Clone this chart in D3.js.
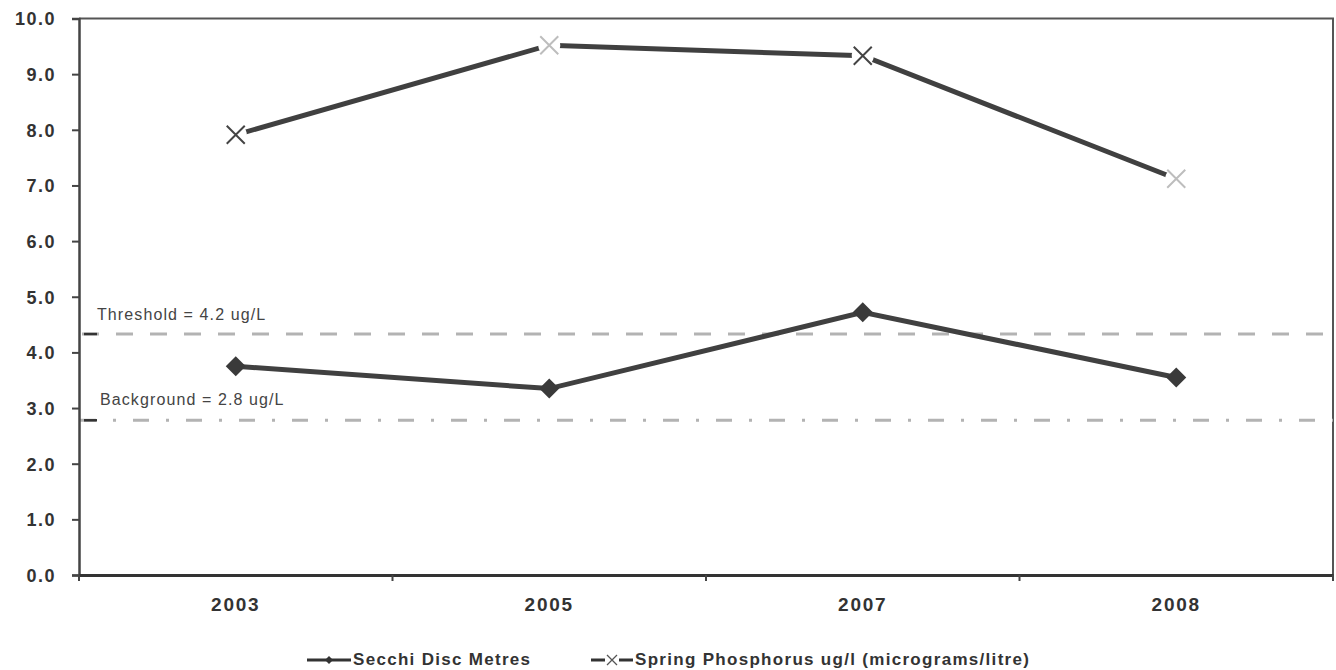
<!DOCTYPE html>
<html>
<head>
<meta charset="utf-8">
<script src="https://cdn.jsdelivr.net/npm/d3@7"></script>
<style>
	body { margin: 0; background: #fff; }
	svg text { font-family: "Liberation Sans", Arial, sans-serif; fill: #333; }
	.tick text { font-weight: bold; font-size: 18px; letter-spacing: 1.5px; }
	.xaxis .tick text { font-size: 19px; letter-spacing: 1.8px; }
	.ref-label { font-size: 16px; letter-spacing: 1.1px; fill: #444; }
	.legend text { font-weight: bold; font-size: 17px; letter-spacing: 1.3px; }
</style>
</head>
<body>
<svg class="chart" width="1336" height="670"></svg>
<script>
// Data
const years = ["2003", "2005", "2007", "2008"]
const secchi = [3.75, 3.35, 4.72, 3.55] // Secchi Disc Metres
const phosphorus = [7.91, 9.52, 9.33, 7.12] // Spring Phosphorus ug/l
const yTicks = [0, 1, 2, 3, 4, 5, 6, 7, 8, 9, 10]
const thresholdValue = 4.33
const backgroundValue = 2.78
const seriesNames = ["Secchi Disc Metres", "Spring Phosphorus  ug/l (micrograms/litre)"]

// scanned X markers come out dark / faded
const xShade = ["#444", "#bdbdbd", "#444", "#bdbdbd"]

const svg = d3.select("svg.chart")

const plotLeft = 79, plotRight = 1333, plotTop = 18.5, plotBottom = 575

const x = d3.scaleBand()
	.domain(years)
	.range([plotLeft, plotRight])
	.paddingInner(0)
	.paddingOuter(0)

const y = d3.scaleLinear()
	.domain([0, 10])
	.range([plotBottom, plotTop])

const cx = d => x(d) + x.bandwidth() / 2

// top and right frame
svg.append("path")
	.attr("d", `M${plotLeft},${plotTop}H${plotRight}V${plotBottom}`)
	.attr("fill", "none")
	.attr("stroke", "#555")
	.attr("stroke-width", 2)

// reference lines
svg.append("line")
	.attr("x1", plotLeft).attr("x2", plotRight)
	.attr("y1", y(thresholdValue)).attr("y2", y(thresholdValue))
	.attr("stroke", "#b3b3b3")
	.attr("stroke-width", 3)
	.attr("stroke-dasharray", "17 17")
	.attr("stroke-dashoffset", -3)

svg.append("line")
	.attr("x1", plotLeft).attr("x2", plotRight)
	.attr("y1", y(backgroundValue)).attr("y2", y(backgroundValue))
	.attr("stroke", "#b3b3b3")
	.attr("stroke-width", 3)
	.attr("stroke-dasharray", "16 17 3 17")
	.attr("stroke-dashoffset", -1)

// dark stubs where the reference lines meet the axis
;[thresholdValue, backgroundValue].forEach(v => {
	svg.append("line")
		.attr("x1", plotLeft + 5).attr("x2", plotLeft + 18)
		.attr("y1", y(v)).attr("y2", y(v))
		.attr("stroke", "#333")
		.attr("stroke-width", 2.5)
})

svg.append("text")
	.attr("class", "ref-label")
	.attr("x", 97)
	.attr("y", y(thresholdValue) - 14)
	.text("Threshold = 4.2 ug/L")

svg.append("text")
	.attr("class", "ref-label")
	.attr("x", 100)
	.attr("y", y(backgroundValue) - 15)
	.text("Background = 2.8 ug/L")

// Left axis
const yAxis = svg.append("g")
	.attr("transform", `translate(${plotLeft},0)`)
	.call(d3.axisLeft(y)
		.tickValues(yTicks)
		.tickFormat(d3.format(".1f"))
		.tickSize(7)
		.tickPadding(16))
yAxis.select(".domain").attr("stroke", "#444").attr("stroke-width", 2.5)
yAxis.selectAll(".tick line").attr("stroke", "#444").attr("stroke-width", 2)
yAxis.selectAll(".tick text").attr("dy", "0.35em")

// Bottom axis: labels at centres, ticks at the category boundaries
const xAxis = svg.append("g")
	.attr("class", "xaxis")
	.attr("transform", `translate(0,${plotBottom})`)
	.call(d3.axisBottom(x).tickSize(0).tickPadding(23))
xAxis.select(".domain").attr("stroke", "#333").attr("stroke-width", 3)

xAxis.selectAll("line.bound")
	.data(years.concat(["end"]))
	.enter()
	.append("line")
	.attr("class", "bound")
	.attr("x1", (d, i) => plotLeft + i * x.step())
	.attr("x2", (d, i) => plotLeft + i * x.step())
	.attr("y1", 0)
	.attr("y2", 6)
	.attr("stroke", "#444")
	.attr("stroke-width", 2)

// Series lines
const line = d3.line()
	.x((d, i) => cx(years[i]))
	.y(d => y(d))

svg.append("path")
	.datum(phosphorus)
	.attr("d", line)
	.attr("fill", "none")
	.attr("stroke", "#404040")
	.attr("stroke-width", 5)

svg.append("path")
	.datum(secchi)
	.attr("d", line)
	.attr("fill", "none")
	.attr("stroke", "#404040")
	.attr("stroke-width", 5)

// X markers, with a white gap cut around them
const xMarks = svg.selectAll("g.xmark")
	.data(phosphorus)
	.enter()
	.append("g")
	.attr("class", "xmark")
	.attr("transform", (d, i) => `translate(${cx(years[i])},${y(d)})`)

xMarks.append("circle")
	.attr("r", 11)
	.attr("fill", "#fff")

xMarks.append("path")
	.attr("d", "M-9,-9L9,9M-9,9L9,-9")
	.attr("stroke", (d, i) => xShade[i])
	.attr("stroke-width", 2)

// Diamond markers
svg.selectAll("path.diamond")
	.data(secchi)
	.enter()
	.append("path")
	.attr("class", "diamond")
	.attr("d", "M0,-10L10,0L0,10L-10,0Z")
	.attr("transform", (d, i) => `translate(${cx(years[i])},${y(d)})`)
	.attr("fill", "#3a3a3a")

// Legend
const legend = svg.append("g").attr("class", "legend")

const leg1 = legend.append("g").attr("transform", "translate(307,660)")
leg1.append("line").attr("x1", 0).attr("x2", 44).attr("y1", 0).attr("y2", 0)
	.attr("stroke", "#333").attr("stroke-width", 3)
leg1.append("path").attr("d", "M22,-4L26,0L22,4L18,0Z").attr("fill", "#333")
leg1.append("text").attr("x", 46).attr("y", 5).text(seriesNames[0])

const leg2 = legend.append("g").attr("transform", "translate(591,660)")
leg2.append("line").attr("x1", 0).attr("x2", 42).attr("y1", 0).attr("y2", 0)
	.attr("stroke", "#333").attr("stroke-width", 3)
leg2.append("rect").attr("x", 14).attr("y", -6).attr("width", 14).attr("height", 12).attr("fill", "#fff")
leg2.append("path").attr("d", "M16,-5L26,5M16,5L26,-5").attr("stroke", "#555").attr("stroke-width", 1.3)
leg2.append("text").attr("x", 44).attr("y", 5).text(seriesNames[1])
</script>
</body>
</html>
